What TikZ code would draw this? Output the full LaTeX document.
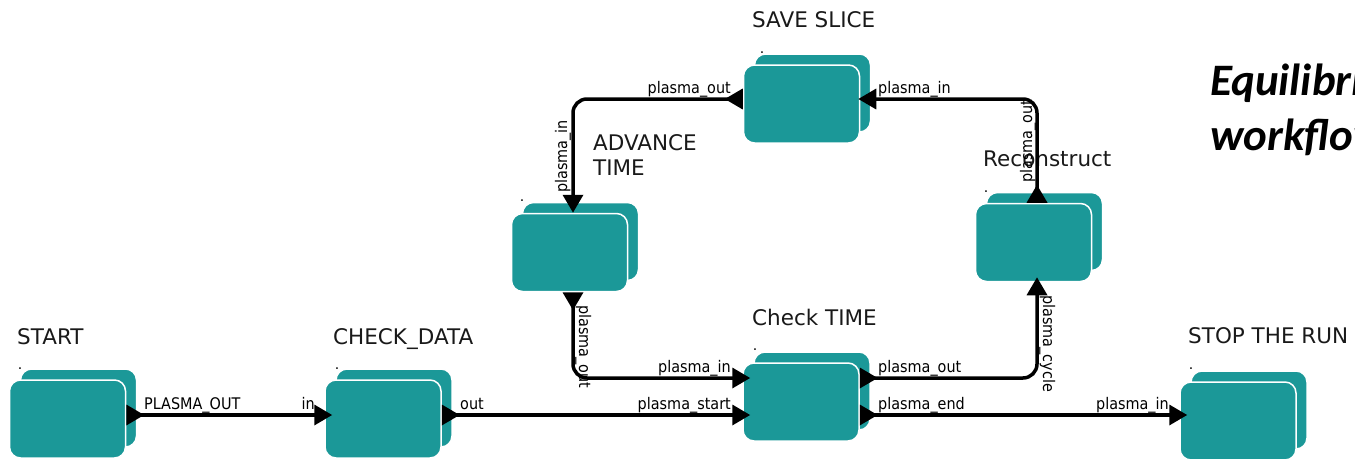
\documentclass[tikz,border=0pt]{standalone}
\usepackage{fontspec}
\setmainfont{DejaVu Sans}
\newfontfamily\carlito{Carlito}
\newfontfamily\labfont[FakeStretch=0.9]{DejaVu Sans}
\usetikzlibrary{arrows.meta,shadows}
\definecolor{tealc}{RGB}{27,152,152}
\tikzset{
  actor/.style={rectangle, rounded corners=11pt, minimum width=116pt, minimum height=78pt,
    inner sep=0pt, fill=tealc, draw=white, line width=1.5pt,
    copy shadow={shadow xshift=11pt, shadow yshift=11pt}},
  ttl/.style={anchor=base west, inner sep=0pt, font=\fontsize{21.5}{25}\selectfont, text=black!90},
  dotlab/.style={anchor=base, inner sep=0pt, font=\fontsize{14}{16}\selectfont},
  lab/.style={inner sep=0pt, font=\labfont\fontsize{16}{18}\selectfont},
  conn/.style={line width=3.5pt, rounded corners=14pt,
    {Triangle[reversed,length=18pt,width=20pt]}-{Triangle[length=18pt,width=20pt]}},
  bigttl/.style={anchor=base west, inner sep=0pt, font=\carlito\bfseries\itshape\fontsize{45}{52}\selectfont},
}
\begin{document}
\begin{tikzpicture}[x=1pt,y=-1pt]
\useasboundingbox (0,0) rectangle (1355,458);
\clip (0,0) rectangle (1355,458);
% actors
\node[actor] (start) at (67.5,419) {};
\node[actor] (checkdata) at (383,419) {};
\node[actor] (checktime) at (801,402) {};
\node[actor] (stop) at (1238,421) {};
\node[actor] (advance) at (569.5,252.5) {};
\node[actor] (saveslice) at (801.5,104) {};
\node[actor] (reconstruct) at (1033.5,242.5) {};
% titles
\node[ttl] (t-start) at (17,344) {START};
\node[ttl] (t-checkdata) at (333,344) {CHECK\_DATA};
\node[ttl] (t-checktime) at (752,325) {Check TIME};
\node[ttl] (t-stop) at (1188,343) {STOP THE RUN};
\node[ttl] (t-save) at (752,27) {SAVE SLICE};
\node[ttl] (t-adv1) at (593,150) {ADVANCE};
\node[ttl] (t-adv2) at (593,175) {TIME};
\node[ttl] (t-rec) at (983,166) {Reconstruct};
% dots
\node[dotlab] (d-start) at (20,369) {.};
\node[dotlab] (d-checkdata) at (337,369) {.};
\node[dotlab] (d-checktime) at (755,350) {.};
\node[dotlab] (d-stop) at (1191,369) {.};
\node[dotlab] (d-save) at (762,53) {.};
\node[dotlab] (d-adv) at (522,201) {.};
\node[dotlab] (d-rec) at (986,192) {.};
% connectors
\draw[conn] ([yshift=4pt]start.east) -- ([xshift=8pt,yshift=4pt]checkdata.west);
\draw[conn] ([yshift=4pt]checkdata.east) -- ([xshift=8pt,yshift=-13pt]checktime.west);
\draw[conn] ([yshift=-13pt]checktime.east) -- ([xshift=8pt,yshift=6pt]stop.west);
\draw[conn] ([yshift=24pt]checktime.east) -| ([xshift=3.5pt,yshift=5pt]reconstruct.south);
\draw[conn] ([xshift=3.5pt]reconstruct.north) |- ([xshift=-2pt,yshift=5pt]saveslice.east);
\draw[conn] ([yshift=5pt]saveslice.west) -| ([xshift=3.5pt]advance.north);
\draw[conn] ([xshift=3.5pt]advance.south) |- ([xshift=8pt,yshift=24pt]checktime.west);
% connector labels
\node[lab, anchor=base west] (l1) at (144,409) {PLASMA\_OUT};
\node[lab, anchor=base east] (l2) at (315,409) {in};
\node[lab, anchor=base west] (l3) at (460,409) {out};
\node[lab, anchor=base east] (l4) at (731,409) {plasma\_start};
\node[lab, anchor=base west] (l5) at (878,409) {plasma\_end};
\node[lab, anchor=base east] (l6) at (1169,409) {plasma\_in};
\node[lab, anchor=base west] (l7) at (878,372) {plasma\_out};
\node[lab, anchor=base east] (l8) at (731,372) {plasma\_in};
\node[lab, anchor=base east] (l9) at (731,93) {plasma\_out};
\node[lab, anchor=base west] (l10) at (878,93) {plasma\_in};
\node[lab, anchor=base west, rotate=90] (l11) at (567,193) {plasma\_in};
\node[lab, anchor=base west, rotate=90] (l12) at (1032,183) {plasma\_out};
\node[lab, anchor=base west, rotate=-90] (l13) at (579,305) {plasma\_out};
\node[lab, anchor=base west, rotate=-90] (l14) at (1043,295) {plasma\_cycle};
% big title
\node[bigttl] (big1) at (1210,95) {Equilibrium};
\node[bigttl] (big2) at (1210,150) {workflow};
\end{tikzpicture}
\end{document}
